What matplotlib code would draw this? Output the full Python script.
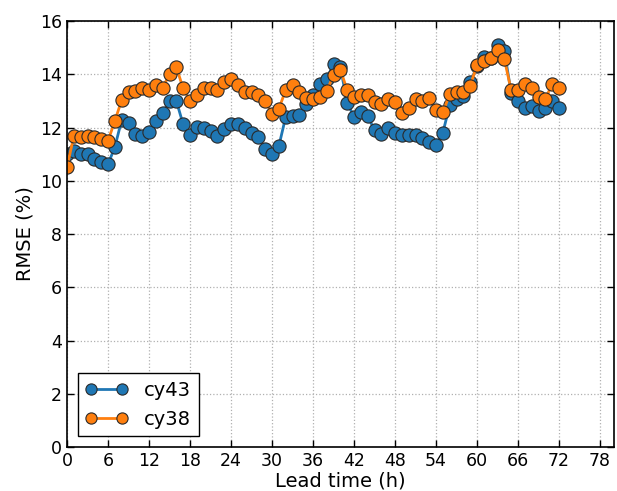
import numpy as np
import matplotlib
matplotlib.use("Agg")
import matplotlib.pyplot as plt

# lead time in hours
horas = np.arange(0, 73)

cy43 = [11.0, 11.12, 11.0, 10.99, 10.81, 10.71, 10.62, 11.27, 12.28, 12.18,
        11.75, 11.69, 11.82, 12.25, 12.53, 13.0, 13.0, 12.12, 11.71, 12.03,
        12.0, 11.86, 11.68, 11.94, 12.13, 12.12, 11.97, 11.78, 11.63, 11.21,
        10.99, 11.3, 12.4, 12.43, 12.47, 12.87, 13.24, 13.62, 13.81, 14.38,
        14.28, 12.94, 12.4, 12.59, 12.44, 11.9, 11.75, 11.99, 11.78, 11.74,
        11.74, 11.74, 11.61, 11.46, 11.34, 11.8, 12.84, 13.09, 13.18, 13.7,
        14.3, 14.66, 14.6, 15.09, 14.88, 13.3, 13.0, 12.74, 12.8, 12.63,
        12.75, 13.0, 12.74]

cy38 = [10.52, 11.68, 11.63, 11.68, 11.63, 11.56, 11.5, 12.25, 13.03, 13.32,
        13.37, 13.47, 13.41, 13.6, 13.5, 14.0, 14.27, 13.47, 13.0, 13.24,
        13.5, 13.47, 13.43, 13.72, 13.81, 13.6, 13.34, 13.32, 13.24, 13.0,
        12.52, 12.7, 13.41, 13.6, 13.32, 13.13, 13.09, 13.16, 13.37, 13.97,
        14.18, 13.41, 13.16, 13.24, 13.22, 12.97, 12.88, 13.07, 12.97, 12.53,
        12.75, 13.07, 13.0, 13.12, 12.65, 12.57, 13.25, 13.34, 13.34, 13.57,
        14.35, 14.49, 14.6, 14.91, 14.57, 13.41, 13.41, 13.62, 13.5, 13.16,
        13.09, 13.62, 13.5]

plt.rcParams['font.family'] = ['DejaVu Sans']
plt.rcParams['xtick.direction'] = 'in'
plt.rcParams['ytick.direction'] = 'in'

fig = plt.figure(figsize=(6.17, 4.91), dpi=100)
ax = fig.add_axes([0.1086, 0.0896, 0.886, 0.8674])

ax.plot(horas, cy43, '-o', color='#1f77b4', lw=2, ms=9.5, mec='#2a2a2a',
        mew=0.8, label='cy43')
ax.plot(horas, cy38, '-o', color='#ff7f0e', lw=2, ms=9.5, mec='#2a2a2a',
        mew=0.8, label='cy38')

ax.set_xlim(0, 80)
ax.set_ylim(0, 16)
ax.set_xticks(np.arange(0, 79, 6))
ax.set_yticks(np.arange(0, 17, 2))
ax.tick_params(labelsize=12.5, top=True, right=True, length=5, width=1)
ax.grid(True, ls=':', color='#b0b0b0', lw=0.9)
ax.set_xlabel('Lead time (h)', fontsize=14, labelpad=1)
ax.set_ylabel('RMSE (%)', fontsize=14)
for s in ax.spines.values():
    s.set_linewidth(1.2)

leg = ax.legend(loc='lower left', fontsize=14, fancybox=False,
                edgecolor='black', framealpha=1, borderaxespad=0.55,
                numpoints=2, handlelength=2.2, markerscale=0.85)
leg.get_frame().set_linewidth(1)

fig.savefig('out.png', dpi=100)
